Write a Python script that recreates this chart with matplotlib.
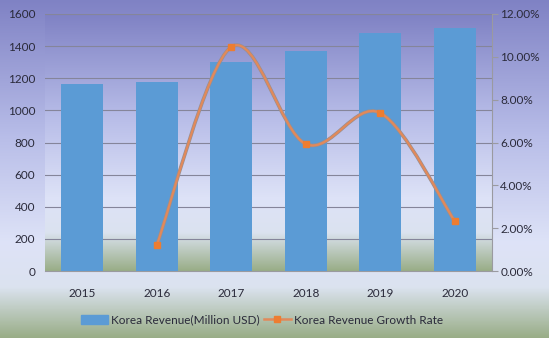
import numpy as np
import matplotlib
matplotlib.use("Agg")
import matplotlib.pyplot as plt
from matplotlib.colors import LinearSegmentedColormap
from matplotlib.path import Path
from matplotlib.patches import PathPatch
from matplotlib.lines import Line2D
from matplotlib.patches import Patch

years = ["2015", "2016", "2017", "2018", "2019", "2020"]
revenue = [1164, 1177, 1299, 1372, 1480, 1513]
growth_years = ["2016", "2017", "2018", "2019", "2020"]
growth = [1.21, 10.46, 5.93, 7.38, 2.33]  # percent

left_ticks = [0, 200, 400, 600, 800, 1000, 1200, 1400, 1600]
right_ticks = [0, 2, 4, 6, 8, 10, 12]

plt.rcParams['font.family'] = ['Lato', 'DejaVu Sans']
text_color = '#2a2a3a'

fig = plt.figure(figsize=(5.49, 3.38), dpi=100)

grad = LinearSegmentedColormap.from_list('bg', [
    (0.0, (0.50, 0.51, 0.77)),
    (0.40, (0.72, 0.74, 0.91)),
    (0.72, (0.87, 0.89, 0.97)),
    (0.85, (0.86, 0.89, 0.94)),
    (1.0, (0.60, 0.68, 0.53)),
])
gimg = np.linspace(0, 1, 256).reshape(-1, 1)

bg = fig.add_axes([0, 0, 1, 1], zorder=-10)
bg.imshow(gimg, aspect='auto', cmap=grad, extent=[0, 1, 0, 1], origin='upper')
bg.set_axis_off()

ax = fig.add_axes([45 / 549, 67 / 338, 447 / 549, 257 / 338])
ax.patch.set_alpha(0)
ax.imshow(gimg, aspect='auto', cmap=grad, extent=[0, 1, 0, 1], origin='upper',
          transform=ax.transAxes, zorder=0)

x = np.arange(len(years))
ax.bar(x, revenue, width=0.56, color='#5b9bd5', zorder=3)
ax.set_xlim(-0.5, len(years) - 0.5)
ax.set_ylim(0, 1600)
ax.set_yticks(left_ticks)
for v in left_ticks[1:]:
    ax.axhline(v, color='#85859a', lw=0.8, zorder=1)
ax.set_xticks(x)
ax.set_xticklabels(years)
for s in ['top', 'right', 'left']:
    ax.spines[s].set_visible(False)
ax.spines['bottom'].set_color('#9a9aa0')
ax.spines['bottom'].set_zorder(2)
ax.tick_params(axis='both', length=0, labelsize=8.5, colors=text_color, pad=7)
ax.tick_params(axis='x', pad=12)

ax2 = ax.twinx()
ax2.set_ylim(0, 12)
ax2.set_yticks(right_ticks)
ax2.set_yticklabels([f"{t:.2f}%" for t in right_ticks])
for s in ['top', 'left', 'bottom']:
    ax2.spines[s].set_visible(False)
ax2.spines['right'].set_color('#9a9aa0')
ax2.tick_params(axis='y', length=4, color='#9a9aa0', labelsize=8.5, labelcolor=text_color, pad=2)

# smooth (Catmull-Rom style Bezier) line through the growth points
gx = np.array([years.index(y) for y in growth_years], dtype=float)
gy = np.array(growth, dtype=float)
verts = [(gx[0], gy[0])]
codes = [Path.MOVETO]
n = len(gx)
for i in range(n - 1):
    p0 = np.array([gx[max(i - 1, 0)], gy[max(i - 1, 0)]])
    p1 = np.array([gx[i], gy[i]])
    p2 = np.array([gx[i + 1], gy[i + 1]])
    p3 = np.array([gx[min(i + 2, n - 1)], gy[min(i + 2, n - 1)]])
    c1 = p1 + (p2 - p0) / 6
    c2 = p2 - (p3 - p1) / 6
    verts += [tuple(c1), tuple(c2), tuple(p2)]
    codes += [Path.CURVE4] * 3
path = Path(verts, codes)
ax2.add_patch(PathPatch(path, fill=False, ec='#9a8f90', lw=2.6, zorder=4))
ax2.add_patch(PathPatch(path, fill=False, ec='#e2895a', lw=1.6, zorder=5))
ax2.plot(gx, gy, ls='none', marker='s', ms=5, color='#ed7d31', zorder=6)

handles = [Patch(color='#5b9bd5'),
           Line2D([0], [0], color='#e2895a', lw=1.8, marker='s', ms=5, mfc='#ed7d31', mec='#ed7d31')]
labels = ['Korea Revenue(Million USD)', 'Korea Revenue Growth Rate']
fig.legend(handles, labels, loc='center', bbox_to_anchor=(262 / 549, 1 - 320 / 338), ncol=2,
           frameon=False, fontsize=8.5, labelcolor=text_color, handlelength=2.3,
           handleheight=0.9, handletextpad=0.3, columnspacing=0.3)

fig.savefig('out.png', dpi=100)
